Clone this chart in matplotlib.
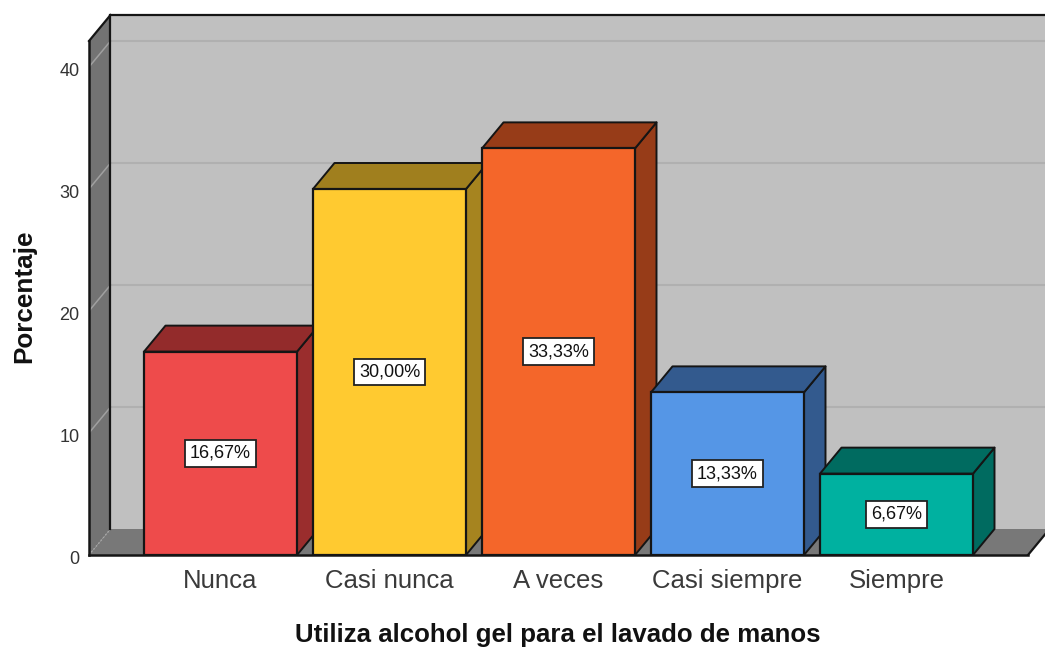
import matplotlib
matplotlib.use("Agg")
import matplotlib.pyplot as plt
from matplotlib.patches import Polygon, Rectangle
from matplotlib.transforms import ScaledTranslation

plt.rcParams['font.family'] = ['Liberation Sans', 'DejaVu Sans']

categories = ["Nunca", "Casi nunca", "A veces", "Casi siempre", "Siempre"]
values = [16.67, 30.00, 33.33, 13.33, 6.67]
labels = ["16,67%", "30,00%", "33,33%", "13,33%", "6,67%"]
y_ticks = [0, 10, 20, 30, 40]
front_colors = ["#EE4B4B", "#FFCA30", "#F4662A", "#5596E6", "#00B1A0"]
top_colors = ["#932B2B", "#A07F1E", "#973C18", "#335A8E", "#006B60"]
side_colors = ["#9A2D2D", "#A6841F", "#973C18", "#335A8E", "#006B60"]

W, H = 1045, 650
px_x = 169.0      # pixels per category
px_y = 12.2       # pixels per percent
dx = 21.5 / px_x  # 3d depth in data units
dy = 26 / px_y
bar_w = 153 / px_x
edge = "#151515"

fig = plt.figure(figsize=(W / 100, H / 100), dpi=100)
ax = fig.add_axes([89 / W, (H - 555) / H, (W - 89) / W, 540 / H])
ax.set_xlim(-(220.5 - 89) / px_x, (W - 220.5) / px_x)
ax.set_ylim(0, 540 / px_y)
for s in ax.spines.values():
    s.set_visible(False)

x0 = ax.get_xlim()[0]
y_top = ax.get_ylim()[1]
x_end = x0 + 939 / px_x

# back wall
ax.add_patch(Rectangle((x0 + dx, dy), 10, y_top - dy, fc="#C0C0C0", ec="none", zorder=1))
ax.plot([x0 + dx, x0 + 10], [y_top, y_top], color=edge, lw=1.6, zorder=2, clip_on=False)
for t in y_ticks[1:]:
    ax.plot([x0 + dx, x0 + 10], [t + dy, t + dy], color="#B0B0B0", lw=1.5, zorder=2)

# left wall
ax.add_patch(Polygon([(x0, 0), (x0 + dx, dy), (x0 + dx, y_top), (x0, y_top - dy)],
                     fc="#737373", ec="none", zorder=2))
for t in y_ticks[1:]:
    ax.plot([x0, x0 + dx], [t, t + dy], color="#A0A0A0", lw=1.1, zorder=3)
ax.plot([x0 + dx, x0 + dx], [dy, y_top], color=edge, lw=1.6, zorder=4)
ax.plot([x0, x0], [0, y_top - dy], color=edge, lw=1.8, zorder=4, clip_on=False)
ax.plot([x0, x0 + dx], [y_top - dy, y_top], color=edge, lw=1.6, zorder=4, clip_on=False)

# floor
ax.add_patch(Polygon([(x0, 0), (x_end, 0), (x_end + dx, dy), (x0 + dx, dy)],
                     fc="#787878", ec="none", zorder=2))
ax.plot([x0, x0 + dx], [0, dy], color="#A8A8A8", lw=1, ls=":", zorder=3)
ax.plot([x0, x_end], [0, 0], color=edge, lw=1.8, zorder=4, clip_on=False)
ax.plot([x_end, x_end + dx], [0, dy], color=edge, lw=1.6, zorder=4)

# bars
for i, v in enumerate(values):
    l, r = i - bar_w / 2, i + bar_w / 2
    ax.add_patch(Polygon([(r, 0), (r + dx, dy), (r + dx, v + dy), (r, v)],
                         fc=side_colors[i], ec=edge, lw=1.4, zorder=5, joinstyle="round"))
    ax.add_patch(Polygon([(l, v), (r, v), (r + dx, v + dy), (l + dx, v + dy)],
                         fc=top_colors[i], ec=edge, lw=1.4, zorder=5, joinstyle="round"))
    ax.add_patch(Rectangle((l, 0), bar_w, v, fc=front_colors[i], ec=edge, lw=1.6, zorder=6))
    ax.text(i, v / 2, labels[i], ha="center", va="center", fontsize=13, color="#111111", zorder=7,
            bbox=dict(boxstyle="square,pad=0.26", fc="white", ec="#222222", lw=1.3))

ax.set_xticks(range(len(categories)))
ax.set_xticklabels(categories, fontsize=18.5, color="#3A3A3A")
ax.tick_params(axis="x", length=0, pad=10)
ax.set_yticks(y_ticks)
ax.tick_params(axis="y", length=0, labelsize=13, pad=7, labelcolor="#333333")
for lab in ax.get_yticklabels():
    lab.set_transform(lab.get_transform() + ScaledTranslation(0, -2 / 100, fig.dpi_scale_trans))

fig.text(558 / W, 1 - 635 / H, "Utiliza alcohol gel para el lavado de manos", ha="center", va="center",
         fontsize=18.6, fontweight="bold", color="#111111")
fig.text(24 / W, 1 - 296 / H, "Porcentaje", ha="center", va="center", rotation=90,
         fontsize=18.8, fontweight="bold", color="#111111")

fig.savefig("out.png", dpi=100, facecolor="white")
